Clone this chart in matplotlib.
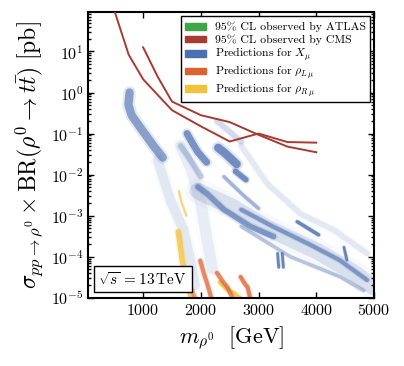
import numpy as np
import matplotlib
matplotlib.use("Agg")
import matplotlib.pyplot as plt
from matplotlib.patches import Patch, Rectangle
from matplotlib.legend_handler import HandlerPatch

plt.rcParams.update({
    "font.family": "serif",
    "font.serif": ["cmr10"],
    "mathtext.fontset": "cm",
    "axes.formatter.use_mathtext": True,
    "axes.linewidth": 1.5,
})

# ------------------------------------------------------------
# Data
# ------------------------------------------------------------

# CMS 95% CL observed limits (two analyses)
CMS_A_M = [500, 750, 1000, 1250, 1500, 2000, 2500, 3000, 3500, 4000]
CMS_A_XS = [100, 8.3, 2.1, 0.88, 0.37, 0.15, 0.064, 0.10, 0.062, 0.060]
CMS_B_M = [1000, 1250, 1500, 2000, 2500, 3000, 3500, 4000]
CMS_B_XS = [12.6, 2.45, 0.60, 0.28, 0.19, 0.093, 0.048, 0.035]

# X_mu prediction clouds, traced as bands (mass, cross section)
XMU_TIP_M = [765, 745, 800, 950, 1180, 1340]
XMU_TIP_XS = [1.0, 0.5, 0.28, 0.14, 0.05, 0.026]
XMU_TAIL_M = [1250, 1470, 1700, 1820, 1900]
XMU_TAIL_XS = [0.023, 2.4e-3, 4.5e-4, 8.3e-5, 2e-5]
XMU_MID_M = [1650, 1850, 2000, 2100, 2200]
XMU_MID_XS = [0.05, 0.012, 2e-3, 3e-4, 5e-5]
XMU_B_M = [1760, 1850, 1950, 2100]
XMU_B_XS = [0.10, 0.06, 0.035, 0.02]
XMU_B2_M = [1650, 1800, 2000]
XMU_B2_XS = [0.05, 0.025, 0.009]
XMU_C_M = [2300, 2400, 2500, 2620]
XMU_C_XS = [0.045, 0.035, 0.026, 0.018]
XMU_D_M = [2600, 2780]
XMU_D_XS = [0.012, 0.0075]
XMU_UP_M = [2280, 2500, 2700]
XMU_UP_XS = [0.2, 0.11, 0.063]
XMU_EDGE_M = [2700, 3150, 3730, 4300, 4880]
XMU_EDGE_XS = [0.05, 6e-3, 1.1e-3, 4.5e-4, 1.2e-4]
XMU_MAIN_M = [1950, 2250, 2550, 3150, 4000, 4600, 5000]
XMU_MAIN_XS = [4e-3, 2.5e-3, 1.6e-3, 5e-4, 1.4e-4, 4.5e-5, 1.8e-5]
XMU_S1_M = [2700, 3250, 3850, 4400, 4880]
XMU_S1_XS = [1.4e-3, 5.4e-4, 2.1e-4, 8.3e-5, 2.7e-5]
XMU_S2_M = [1950, 2100, 2400, 2860, 3260]
XMU_S2_XS = [5e-3, 3.5e-3, 1.4e-3, 5.4e-4, 3.1e-4]
XMU_S3_M = [2400, 2750, 3000]
XMU_S3_XS = [8.9e-3, 3e-3, 1.5e-3]
XMU_S4_M = [3670, 4040]
XMU_S4_XS = [7.1e-4, 3.4e-4]
XMU_S5_M = [2700, 3550, 4420, 4820]
XMU_S5_XS = [5.4e-4, 1e-4, 3.2e-5, 1.5e-5]
XMU_V1_M = [3330, 3350]
XMU_V1_XS = [1.2e-4, 5.5e-5]
XMU_V2_M = [3410, 3430]
XMU_V2_XS = [1.2e-4, 5.5e-5]
XMU_V3_M = [4480, 4530]
XMU_V3_XS = [1.7e-4, 8.3e-5]

# rho_L mu predictions
RHOL_1_M = [1990, 2050, 2110, 2200]
RHOL_1_XS = [8e-5, 4e-5, 2.2e-5, 8e-6]
RHOL_2_M = [2280, 2380, 2460, 2580]
RHOL_2_XS = [4e-5, 2.5e-5, 1.8e-5, 8e-6]
RHOL_3_M = [2690, 2760, 2810, 2870]
RHOL_3_XS = [3.2e-5, 2.2e-5, 1.8e-5, 8e-6]
RHOL_4_M = [1750, 1850, 1930]
RHOL_4_XS = [2.5e-5, 1.5e-5, 8e-6]

# rho_R mu predictions
RHOR_1_M = [1610, 1640, 1680, 1760, 1860]
RHOR_1_XS = [4e-4, 2e-4, 8e-5, 2.2e-5, 8e-6]
RHOR_2_M = [1620, 1660, 1750]
RHOR_2_XS = [4e-3, 2.2e-3, 1e-3]
RHOR_3_M = [2330, 2450, 2570, 2750]
RHOR_3_XS = [2.4e-5, 1.6e-5, 1.3e-5, 8e-6]

LEGEND_LABELS = [
    "95% CL observed by ATLAS",
    "95% CL observed by CMS",
    r"Predictions for $X_\mu$",
    r"Predictions for $\rho_{L\,\mu}$",
    r"Predictions for $\rho_{R\,\mu}$",
]

# ------------------------------------------------------------
# Figure
# ------------------------------------------------------------

BLUE = "#4c6fb0"
ORANGE = "#dd6232"
YELLOW = "#f2c23c"
RED = "#a83a32"
GREEN = "#3fa548"

fig = plt.figure(figsize=(4.04, 3.66), dpi=100)
ax = fig.add_axes([0.2186, 0.1866, 0.7071, 0.7798])


def band(m, xs, color, lw, alpha):
    ax.plot(m, xs, color=color, lw=lw * 1.5, alpha=alpha * 0.25,
            solid_capstyle="round", solid_joinstyle="round", zorder=1)
    ax.plot(m, xs, color=color, lw=lw, alpha=alpha,
            solid_capstyle="round", solid_joinstyle="round", zorder=1)


# faint envelopes
band(XMU_MAIN_M, XMU_MAIN_XS, BLUE, 12, 0.18)
band(XMU_TAIL_M, XMU_TAIL_XS, BLUE, 7, 0.13)
band(XMU_MID_M, XMU_MID_XS, BLUE, 8, 0.1)
band(XMU_EDGE_M, XMU_EDGE_XS, BLUE, 4, 0.12)
band(XMU_UP_M, XMU_UP_XS, BLUE, 4, 0.2)

# denser structures
band(XMU_TIP_M, XMU_TIP_XS, BLUE, 6, 0.6)
band(XMU_B_M, XMU_B_XS, BLUE, 5, 0.7)
band(XMU_B2_M, XMU_B2_XS, BLUE, 4, 0.3)
band(XMU_C_M, XMU_C_XS, BLUE, 6, 0.75)
band(XMU_D_M, XMU_D_XS, BLUE, 4, 0.75)
band(XMU_S1_M, XMU_S1_XS, BLUE, 3, 0.6)
band(XMU_S2_M, XMU_S2_XS, BLUE, 4, 0.6)
band(XMU_S3_M, XMU_S3_XS, BLUE, 2.5, 0.45)
band(XMU_S4_M, XMU_S4_XS, BLUE, 2.5, 0.8)
band(XMU_S5_M, XMU_S5_XS, BLUE, 2.5, 0.35)
band(XMU_V1_M, XMU_V1_XS, BLUE, 2, 0.8)
band(XMU_V2_M, XMU_V2_XS, BLUE, 2, 0.8)
band(XMU_V3_M, XMU_V3_XS, BLUE, 2, 0.8)

band(RHOR_1_M, RHOR_1_XS, YELLOW, 4, 0.75)
band(RHOR_2_M, RHOR_2_XS, YELLOW, 1.5, 0.6)
band(RHOR_3_M, RHOR_3_XS, YELLOW, 3, 0.8)
band(RHOL_1_M, RHOL_1_XS, ORANGE, 3, 0.7)
band(RHOL_2_M, RHOL_2_XS, ORANGE, 3, 0.7)
band(RHOL_3_M, RHOL_3_XS, ORANGE, 3, 0.75)
band(RHOL_4_M, RHOL_4_XS, ORANGE, 3, 0.5)

ax.plot(CMS_A_M, CMS_A_XS, color=RED, lw=1.4, zorder=3)
ax.plot(CMS_B_M, CMS_B_XS, color=RED, lw=1.4, zorder=3)

ax.set_yscale("log")
ax.set_xlim(50, 5000)
ax.set_ylim(1e-5, 90)
ax.set_xticks([1000, 2000, 3000, 4000, 5000])
ax.tick_params(which="both", direction="in", top=True, right=True,
               labelsize=11.5, width=1)
ax.tick_params(which="major", length=4)
ax.tick_params(which="minor", length=2)

ax.set_xlabel(r"$m_{\rho^0}\ \ [\mathrm{GeV}]$", fontsize=16, labelpad=5)
ax.set_ylabel(r"$\sigma_{pp\to\rho^0}\times\mathrm{BR}(\rho^0\to t\bar{t})\ [\mathrm{pb}]$",
              fontsize=17, labelpad=4)


# flat colour swatches, shorter than the legend row
def swatch(legend, orig_handle, xdescent, ydescent, width, height, fontsize):
    h = 0.5 * height
    return Rectangle((-xdescent, -ydescent + (height - h) / 2), width, h)


handles = [Patch(color=c, label=l) for c, l in
           zip([GREEN, RED, BLUE, ORANGE, YELLOW], LEGEND_LABELS)]
leg = ax.legend(handles=handles, loc="upper right", fontsize=8.5,
                fancybox=False, framealpha=1, edgecolor="black",
                borderaxespad=0.35, handlelength=1.8, handleheight=1.3,
                labelspacing=0.0, borderpad=0.3,
                handler_map={Patch: HandlerPatch(patch_func=swatch)})
leg.get_frame().set_linewidth(1)

ax.text(0.035, 0.045, r"$\sqrt{s}\,=13\,\mathrm{TeV}$", transform=ax.transAxes,
        fontsize=11, zorder=5,
        bbox=dict(boxstyle="square,pad=0.3", fc="white", ec="black", lw=1))

fig.savefig("out.png", dpi=100)
